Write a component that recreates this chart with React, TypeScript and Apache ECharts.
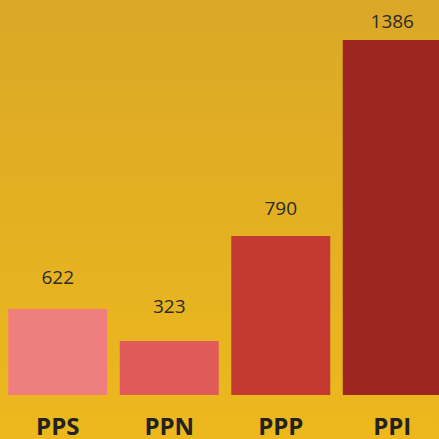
import React, { useEffect, useRef } from "react";
import * as echarts from "echarts";

const categories = ["PPS", "PPN", "PPP", "PPI"];
// Bar heights (in units of the 1386 bar)
const barValues = [336, 211, 621, 1386];
// Value labels printed above each bar
const labelValues = [622, 323, 790, 1386];
const barColors = ["#EF7F7F", "#E05A5A", "#C43A33", "#9E2622"];
const labelGaps = [22, 25, 18, 10];

export default function App() {
  const ref = useRef<HTMLDivElement>(null);
  useEffect(() => {
    if (!ref.current) return;
    const chart = echarts.init(ref.current, null, { renderer: "svg" });
    chart.setOption({
      animation: false,
      backgroundColor: {
        type: "linear",
        x: 0,
        y: 0,
        x2: 0,
        y2: 1,
        colorStops: [
          { offset: 0, color: "#DAA827" },
          { offset: 1, color: "#EDB81D" },
        ],
      },
      grid: { left: 2, right: 0, top: 40, bottom: 44 },
      xAxis: {
        type: "category",
        data: categories,
        axisLine: { show: false },
        axisTick: { show: false },
        axisLabel: {
          color: "#222222",
          fontFamily: "Open Sans",
          fontWeight: "bold",
          fontSize: 24,
          margin: 18,
        },
      },
      yAxis: {
        type: "value",
        min: 0,
        max: 1386,
        show: false,
        splitLine: { show: false },
      },
      series: [
        {
          type: "bar",
          barWidth: 99,
          data: barValues.map((v, i) => ({
            value: v,
            itemStyle: { color: barColors[i] },
            label: {
              show: true,
              position: "top",
              distance: labelGaps[i],
              formatter: String(labelValues[i]),
              color: "#2b2b2b",
              fontFamily: "Open Sans",
              fontSize: 19,
            },
          })),
        },
      ],
    });
    return () => chart.dispose();
  }, []);
  return (
    <div
      style={{
        position: "fixed",
        left: 0,
        top: 0,
        width: 439,
        height: 439,
        overflow: "hidden",
      }}
    >
      <div ref={ref} style={{ width: 448, height: 439 }} />
    </div>
  );
}
